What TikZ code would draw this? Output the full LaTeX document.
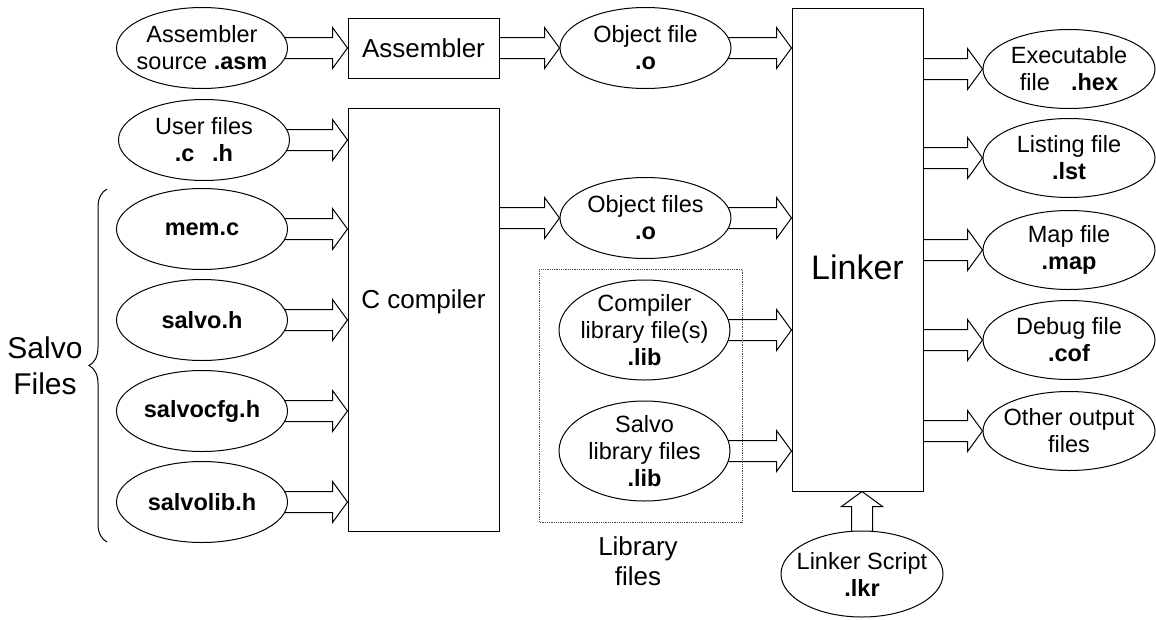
\documentclass[tikz,border=0pt]{standalone}
\usepackage{fontspec}
\setmainfont{Liberation Sans}
\usetikzlibrary{shapes.geometric,calc,backgrounds,decorations.pathreplacing}
\begin{document}
\begin{tikzpicture}[x=1pt,y=-1pt,
  line width=1pt,
  file/.style={ellipse, draw, fill=white, minimum width=171pt, minimum height=81pt, inner sep=0pt},
  tallfile/.style={file, minimum height=100pt},
  ftxt/.style={font=\fontsize{23.5}{27}\selectfont, align=center, inner sep=0pt},
  box/.style={rectangle, draw, fill=white, inner sep=0pt},
  btxt/.style={font=\fontsize{26}{30}\selectfont, align=center, inner sep=0pt},
  fat/.style={draw=black, line width=1pt, fill=white, line join=miter, to path={
    let \p1=(\tikztostart), \p2=(\tikztotarget),
        \n1={atan2(\y2-\y1,\x2-\x1)}, \n2={veclen(\x2-\x1,\y2-\y1)-15pt} in
    ($(\p1)+(\n1+90:10.5pt)$) -- ($(\p1)+(\n1:\n2)+(\n1+90:10.5pt)$)
    -- ($(\p1)+(\n1:\n2)+(\n1+90:20.5pt)$) -- (\p2)
    -- ($(\p1)+(\n1:\n2)+(\n1-90:20.5pt)$) -- ($(\p1)+(\n1:\n2)+(\n1-90:10.5pt)$)
    -- ($(\p1)+(\n1-90:10.5pt)$) -- cycle}}
]
\useasboundingbox (0,0) rectangle (1156,619);

% left column
\node[file, label={[ftxt]center:{Assembler\\source \textbf{.asm}}}] (asmsrc) at (202,48) {};
\node[file, label={[ftxt]center:{User files\\\textbf{.c}\hspace{0.75em}\textbf{.h}}}] (user) at (204,140) {};
\node[file, label={[ftxt]center:{\textbf{mem.c}}}] (mem) at (202,229) {};
\node[file, label={[ftxt]center:{\textbf{salvo.h}}}] (salvoh) at (202,320) {};
\node[file, label={[ftxt]center:{\textbf{salvocfg.h}}}] (salvocfg) at (202,411) {};
\node[file, label={[ftxt]center:{\textbf{salvolib.h}}}] (salvolib) at (202,502) {};

\draw[decorate, decoration={brace, amplitude=18pt, aspect=0.5}] (107,542) -- (107,189);
\node[align=center, font=\fontsize{30}{36}\selectfont, inner sep=0pt] (salvotxt) at (45,366) {Salvo\\Files};

% processing boxes
\node[box, minimum width=151pt, minimum height=60pt, label={[btxt]center:Assembler}] (asm) at (423.5,48) {};
\node[box, minimum width=151pt, minimum height=423pt, label={[btxt, yshift=18pt]center:C compiler}] (cc) at (423.5,319.5) {};

% middle column
\node[file, label={[ftxt]center:{Object file\\\textbf{.o}}}] (obj1) at (645.5,48) {};
\node[file, label={[ftxt]center:{Object files\\\textbf{.o}}}] (obj2) at (645.5,218) {};
\node[tallfile, label={[ftxt]center:{Compiler\\library file(s)\\\textbf{.lib}}}] (complib) at (644.5,330) {};
\node[tallfile, label={[ftxt]center:{Salvo\\library files\\\textbf{.lib}}}] (slib) at (644.5,451) {};
\node[btxt] (libtxt) at (638,561) {Library\\files};

% linker
\node[box, minimum width=131pt, minimum height=483pt, label={[font=\fontsize{34}{40}\selectfont, inner sep=0pt, yshift=-18pt]center:Linker}] (linker) at (857.5,249.5) {};

% outputs
\node[file, minimum width=172pt, minimum height=79pt, label={[ftxt]center:{Executable\\file\hspace{0.9em}\textbf{.hex}}}] (exe) at (1069,69) {};
\node[file, minimum width=172pt, minimum height=79pt, label={[ftxt]center:{Listing file\\\textbf{.lst}}}] (lst) at (1069,158) {};
\node[file, minimum width=172pt, minimum height=79pt, label={[ftxt]center:{Map file\\\textbf{.map}}}] (map) at (1069,250) {};
\node[file, minimum width=172pt, minimum height=79pt, label={[ftxt]center:{Debug file\\\textbf{.cof}}}] (dbg) at (1069,340) {};
\node[file, minimum width=172pt, minimum height=79pt, label={[ftxt]center:{Other output\\files}}] (oth) at (1069,431) {};

\node[file, minimum width=162pt, minimum height=86pt, label={[ftxt]center:{Linker Script\\\textbf{.lkr}}}] (lkr) at (862,574) {};

% dotted library group
\draw[densely dotted, line width=0.8pt, black!70] (539,269) rectangle (742,522);

\begin{pgfonlayer}{background}
\draw[fat] (asmsrc.center) to (asm.west);
\draw[fat] (asm.center) to (obj1.west);
\draw[fat] (obj1.center) to (obj1.center -| linker.west);
\draw[fat] (user.center) to (user.center -| cc.west);
\draw[fat] (mem.center) to (mem.center -| cc.west);
\draw[fat] (salvoh.center) to (salvoh.center -| cc.west);
\draw[fat] (salvocfg.center) to (salvocfg.center -| cc.west);
\draw[fat] (salvolib.center) to (salvolib.center -| cc.west);
\draw[fat] (cc.center |- obj2.center) to (obj2.west);
\draw[fat] (obj2.center) to (obj2.center -| linker.west);
\draw[fat] (complib.center) to (complib.center -| linker.west);
\draw[fat] (slib.center) to (slib.center -| linker.west);
\draw[fat] (linker.center |- exe.center) to (exe.west);
\draw[fat] (linker.center |- lst.center) to (lst.west);
\draw[fat] (linker.center |- map.center) to (map.west);
\draw[fat] (linker.center |- dbg.center) to (dbg.west);
\draw[fat] (linker.center |- oth.center) to (oth.west);
\draw[fat] (lkr.center) to (lkr.center |- linker.south);
\end{pgfonlayer}
\end{tikzpicture}
\end{document}
